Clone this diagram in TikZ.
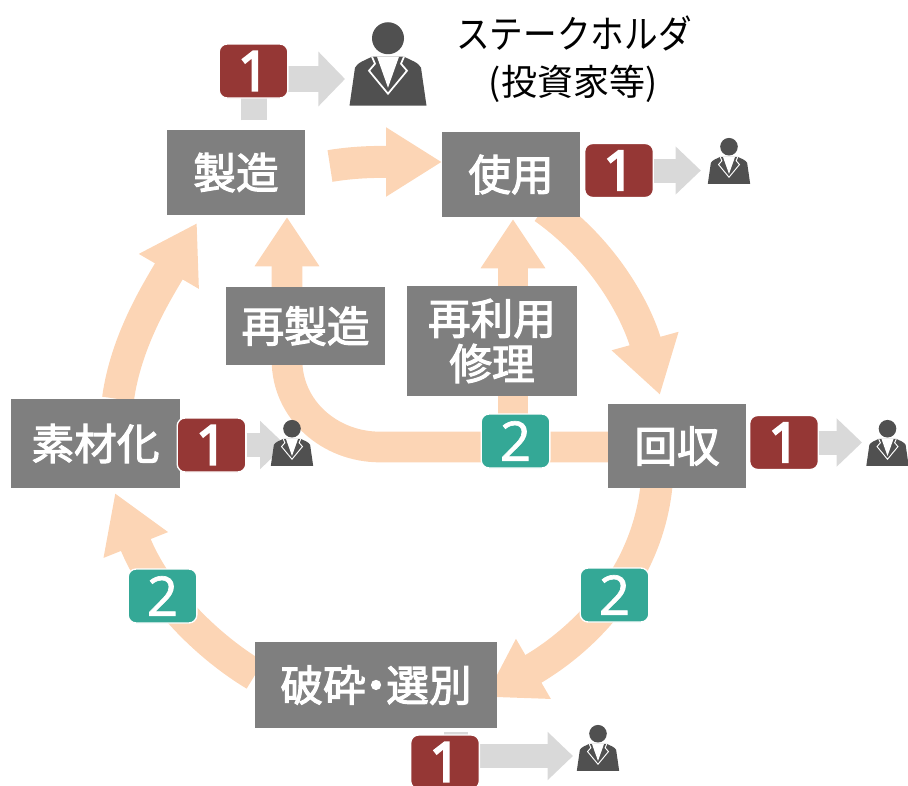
\documentclass[tikz,border=0pt]{standalone}
\usepackage{fontspec}
\usetikzlibrary{arrows.meta}
\setmainfont{Noto Sans CJK JP}
\newfontfamily\stagefont{Noto Sans CJK JP}[FakeBold=2.6]
\newfontfamily\digitone{Open Sans}[FakeBold=4]
\newfontfamily\digittwo{Open Sans}[FakeBold=1.2]
\definecolor{peach}{HTML}{FCD5B5}
\definecolor{boxgray}{HTML}{7F7F7F}
\definecolor{lightgray2}{HTML}{D9D9D9}
\definecolor{badgered}{HTML}{953735}
\definecolor{badgeteal}{HTML}{34A896}
\definecolor{persondark}{HTML}{505050}
\tikzset{
  flow/.style={draw=peach,line width=24pt,-{Triangle[length=42pt,width=49pt]}},
  straightflow/.style={draw=peach,line width=23pt,-{Triangle[length=37pt,width=46pt]}},
  feed/.style={draw=lightgray2,line width=18pt,-{Triangle[length=19pt,width=35pt]}},
  bigfeed/.style={draw=lightgray2,line width=19.5pt,-{Triangle[length=20pt,width=40pt]}},
  stagebox/.style={fill=boxgray,text=white,inner sep=0pt,align=center,font=\fontsize{32}{34}\selectfont\stagefont},
  badgebase/.style={rounded corners=6pt,draw=white,line width=1pt,text=white,inner sep=0pt,minimum width=51.5pt,minimum height=40.5pt},
  redbadge/.style={badgebase,fill=badgered,font=\fontsize{41}{41}\selectfont\digitone},
  tealbadge/.style={badgebase,fill=badgeteal,font=\fontsize{41}{41}\selectfont\digittwo},
  holder/.style={inner sep=0pt,minimum width=#1*77*.75pt,minimum height=#1*84*.75pt},
  heading/.style={inner sep=0pt,text=black}
}
\newcommand{\personicon}[2]{%
  \begin{scope}[shift={(#1.north)},scale=#2]
    \fill[persondark] (0,16.5) circle (16);
    \fill[persondark] (-38.5,84) -- (-33,46) .. controls (-31,41) and (-22,38) .. (-16,35) -- (16,35)
      .. controls (22,38) and (31,41) .. (33,46) -- (38.5,84) -- cycle;
    \fill[white] (-11,35) -- (0,66) -- (11,35) -- cycle;
    \draw[white,line width=#2*1.3pt,line join=miter] (-16,35) -- (-13,42) -- (-19,49) -- (0,72) -- (19,49) -- (13,42) -- (16,35);
  \end{scope}%
}
\begin{document}
\begin{tikzpicture}[x=.75pt,y=-.75pt]
\useasboundingbox (0,0) rectangle (908,786);
\coordinate (flowA) at (330,166);
\coordinate (tipA) at (442,162);
\coordinate (flowB) at (544,208);
\coordinate (tipB) at (660,395);
\coordinate (flowC) at (657,480);
\coordinate (tipC) at (485,697);
\coordinate (flowD) at (255,675);
\coordinate (tipD) at (115,493);
\coordinate (flowE) at (118,399);
\coordinate (tipE) at (197,223);
\coordinate (tipF) at (287,217);
\coordinate (flowG) at (513,447);
\coordinate (tipG) at (513,219);
\coordinate (flowF) at (620,447);
\draw[flow] (flowA) .. controls (360,161) and (385,162) .. (tipA);
\draw[flow] (flowB) .. controls (610,255) and (639,319) .. (tipB);
\draw[flow] (flowC) .. controls (650,570) and (590,636) .. (tipC);
\draw[flow] (flowD) .. controls (210,648) and (157,598) .. (tipD);
\draw[flow] (flowE) .. controls (126,340) and (158,290) .. (tipE);
\draw[straightflow] (flowF) -- (380,447) .. controls (330,447) and (287,410) .. (287,360) -- (tipF);
\draw[straightflow] (flowG) -- (tipG);
\node[stagebox,minimum width=103.5pt,minimum height=63.75pt] (seizo) at (236,172.5) {製造};
\node[stagebox,minimum width=103.5pt,minimum height=63.75pt] (shiyo) at (511,174.5) {使用};
\node[stagebox,minimum width=103.5pt,minimum height=63pt] (kaishu) at (677,446) {回収};
\node[stagebox,minimum width=126.75pt,minimum height=66.75pt] (sozai) at (95.5,443.5) {素材化};
\node[stagebox,minimum width=181.5pt,minimum height=64.5pt] (hasai) at (376,685) {破砕\hspace{-.26em}・\hspace{-.26em}選別};
\node[stagebox,minimum width=119.25pt,minimum height=58.5pt] (saiseizo) at (305.5,326) {再製造};
\node[stagebox,minimum width=127.5pt,minimum height=82.5pt] (sairiyo) at (492,341) {再利用\\修理};
\node[holder=1] (p1) at (388,64) {};
\node[holder=.55] (p2) at (729,161) {};
\node[holder=.55] (p3) at (887.5,443) {};
\node[holder=.55] (p4) at (292,443) {};
\node[holder=.55] (p5) at (598,748) {};
\coordinate (b1c) at (253.5,71);
\coordinate (b5c) at (445,762);
\coordinate (p1in) at (345,79);
\coordinate (p5in) at (573,756);
\draw[bigfeed,shorten <=7pt] (seizo.north -| b1c) |- (p1in);
\draw[feed,shorten <=3pt] (hasai.south -| 456,0) |- (p5in);
\node[redbadge] (b1) at (b1c) {1};
\node[redbadge] (b2) at (619,170.5) {1};
\node[redbadge] (b3) at (784,442.5) {1};
\node[redbadge] (b4) at (211.5,445) {1};
\draw[feed,shorten >=5pt] (b2.east) -- (b2.east -| p2.west);
\draw[feed,shorten >=3pt] (b3.east) -- (b3.east -| p3.west);
\draw[feed] (b4.east) -- ++(39,0) coordinate (b4tip);
\node[redbadge] (b5) at (b5c) {1};
\node[tealbadge] (t1) at (515.5,441) {2};
\node[tealbadge] (t2) at (614.5,595) {2};
\node[tealbadge] (t3) at (162.5,596) {2};
\personicon{p1}{1}
\personicon{p2}{.55}
\personicon{p3}{.55}
\personicon{p4}{.55}
\personicon{p5}{.55}
\node[heading,font=\fontsize{29}{29}\selectfont] (title1) at (574,33) {\scalebox{.87}[1]{ステークホルダ}};
\node[heading,font=\fontsize{27}{27}\selectfont] (title2) at (573,84) {(投資家等)};
\end{tikzpicture}
\end{document}
